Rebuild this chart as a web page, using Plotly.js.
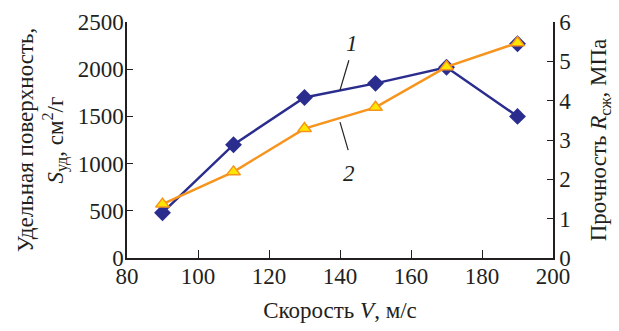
<!DOCTYPE html>
<html>
<head>
<meta charset="utf-8">
<script src="https://cdn.plot.ly/plotly-3.0.1.min.js"></script>
<style>html,body{margin:0;padding:0;background:#fff;}
#chart svg text { font-family: 'Liberation Serif', 'Times New Roman', serif !important; }</style>
</head>
<body>
<div id="chart" style="width:619px;height:331px"></div>
<script>
// Data
const speed = [90, 110, 130, 150, 170, 190];
const surface = [480, 1200, 1700, 1850, 2020, 1500];      // S_уд, см²/г (left axis)
const strength = [1.37, 2.19, 3.29, 3.83, 4.86, 5.47];    // R_сж, МПа (right axis)
const extraSpeed = [190];
const extraSurface = [2270];
const xTicks = [80, 100, 120, 140, 160, 180, 200];
const yTicks = [0, 500, 1000, 1500, 2000, 2500];
const y2Ticks = [0, 1, 2, 3, 4, 5, 6];

const FAM = "Liberation Serif";
const BLUE = "#2b2d8e";
const ORANGE = "#f7941d";
const INK = "#231f20";

function mkFont(size) { return {family: FAM, size: size, color: INK}; }

const traces = [
  {x: extraSpeed, y: extraSurface, type: "scatter", mode: "markers",
   marker: {symbol: "diamond", size: 13, color: BLUE}, yaxis: "y", hoverinfo: "skip"},
  {x: speed, y: surface, type: "scatter", mode: "lines+markers",
   line: {color: BLUE, width: 2.5},
   marker: {symbol: "diamond", size: 13, color: BLUE}, yaxis: "y"},
  {x: speed, y: strength, type: "scatter", mode: "lines+markers",
   line: {color: ORANGE, width: 2.5},
   marker: {symbol: "triangle-up", size: 12, color: "#ffe600", line: {color: ORANGE, width: 1.5}}, yaxis: "y2"}
];

const layout = {
  width: 619, height: 331,
  margin: {l: 127, r: 66, t: 22, b: 73},
  paper_bgcolor: "#fff", plot_bgcolor: "#fff",
  showlegend: false,
  font: mkFont(23),
  xaxis: {
    range: [80, 200], tickvals: xTicks, ticktext: xTicks.map(String),
    ticks: "inside", ticklen: 8, tickwidth: 1.2, tickcolor: INK,
    showline: true, linecolor: INK, linewidth: 1.5, showgrid: false, zeroline: false,
    tickfont: mkFont(23), ticklabelstandoff: -3,
    title: {text: "Скорость <i>V</i>, м/с", font: mkFont(23), standoff: 14}
  },
  yaxis: {
    range: [0, 2500], tickvals: yTicks, ticktext: yTicks.map(String),
    ticks: "inside", ticklen: 6, tickwidth: 1.2, tickcolor: INK,
    showline: true, linecolor: INK, linewidth: 1.5, showgrid: false, zeroline: false,
    tickfont: mkFont(23), ticklabelstandoff: -3,
    title: {text: "Удельная поверхность,<br><i>S</i><sub>уд</sub>, см<sup>2</sup>/г", font: mkFont(23), standoff: 8}
  },
  yaxis2: {
    range: [0, 6], tickvals: y2Ticks, ticktext: y2Ticks.map(String),
    overlaying: "y", side: "right",
    ticks: "inside", ticklen: 6, tickwidth: 1.2, tickcolor: INK,
    showline: true, linecolor: INK, linewidth: 1.5, showgrid: false, zeroline: false,
    tickfont: mkFont(23),
    title: {text: "Прочность <i>R</i><sub>сж</sub>, МПа", font: mkFont(23), standoff: 20}
  },
  annotations: [
    {x: 143.4, y: 2275, xref: "x", yref: "y", text: "<i>1</i>", showarrow: false, font: mkFont(23)},
    {x: 142.5, y: 900, xref: "x", yref: "y", text: "<i>2</i>", showarrow: false, font: mkFont(23)}
  ],
  shapes: [
    {type: "line", xref: "x", yref: "y", x0: 142.5, y0: 2095, x1: 140, y1: 1778, line: {color: INK, width: 1.2}},
    {type: "line", xref: "x", yref: "y", x0: 140, y0: 1439, x1: 142.3, y1: 1143, line: {color: INK, width: 1.2}}
  ]
};

function forceSerif() {
  document.querySelectorAll("#chart svg text").forEach(function (t) {
    t.setAttribute("font-family", "Liberation Serif, serif");
    t.style.setProperty("font-family", "'Liberation Serif', serif", "important");
  });
}

Plotly.newPlot("chart", traces, layout, {displayModeBar: false}).then(function (gd) {
  forceSerif();
  gd.on("plotly_afterplot", forceSerif);
});
</script>
</body>
</html>
